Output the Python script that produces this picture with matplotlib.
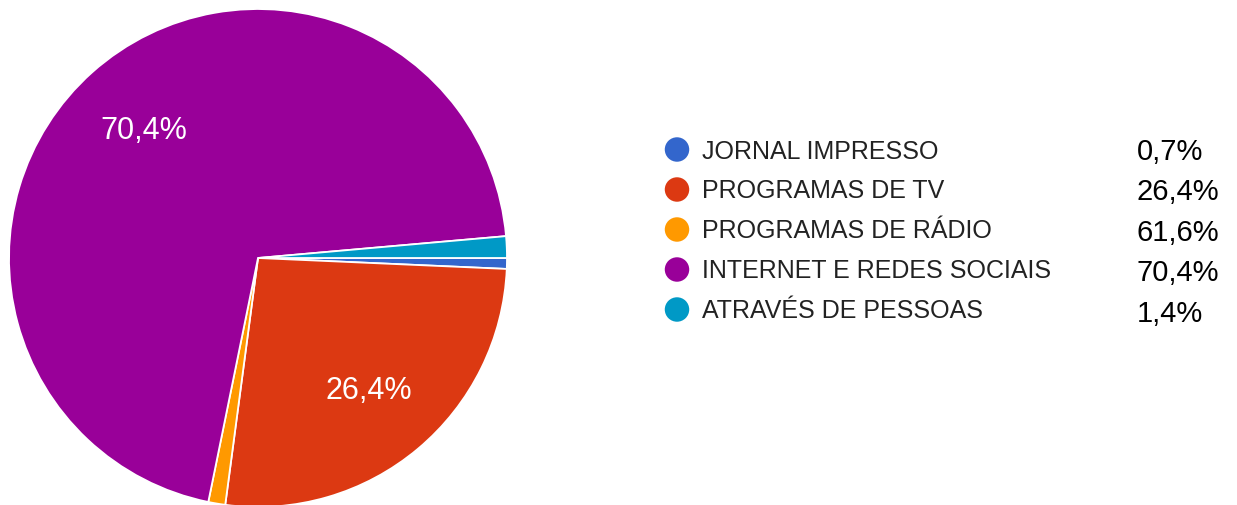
import matplotlib
matplotlib.use("Agg")
import matplotlib.pyplot as plt

plt.rcParams['font.family'] = ['Liberation Sans', 'DejaVu Sans']

# Data
categories = ["JORNAL IMPRESSO", "PROGRAMAS DE TV", "PROGRAMAS DE RÁDIO",
              "INTERNET E REDES SOCIAIS", "ATRAVÉS DE PESSOAS"]
slice_values = [0.7, 26.4, 1.1, 70.4, 1.4]          # sizes of pie wedges
legend_values = ["0,7%", "26,4%", "61,6%", "70,4%", "1,4%"]  # values printed beside legend
colors = ["#3366cc", "#dc3912", "#ff9900", "#990099", "#0099c6"]

W, H = 1237, 506
fig = plt.figure(figsize=(W / 100, H / 100), dpi=100)

# Pie axes: radius ~249 px, centre at (258, 259) px from top-left
r = 249
cx, cy = 258, 259
ax = fig.add_axes([(cx - r) / W, (H - cy - r) / H, 2 * r / W, 2 * r / H])


def fmt(p):
    return f"{p:.1f}%".replace(".", ",") if p > 5 else ""


wedges, texts, autotexts = ax.pie(
    slice_values, colors=colors, startangle=0, counterclock=False,
    autopct=fmt, pctdistance=0.69,
    wedgeprops=dict(edgecolor="white", linewidth=1.3),
    textprops=dict(color="white", fontsize=22),
)
ax.set_xlim(-1, 1)
ax.set_ylim(-1, 1)
ax.set_aspect("equal")
ax.axis("off")

# Legend axes in pixel coordinates
lax = fig.add_axes([0, 0, 1, 1], zorder=3)
lax.set_xlim(0, W)
lax.set_ylim(H, 0)
lax.axis("off")
lax.patch.set_alpha(0)

row0, dy = 150.5, 40
for i, (cat, col, val) in enumerate(zip(categories, colors, legend_values)):
    y = row0 + dy * i
    lax.scatter([677], [y], s=310, color=col, edgecolors="none")
    lax.text(702, y + 8, cat, fontsize=18, color="#222222", ha="left", va="baseline")
    lax.text(1137, 160 + 40.4 * i, val, fontsize=21, color="#000000", ha="left", va="baseline")

fig.savefig("out.png", dpi=100, facecolor="white")
